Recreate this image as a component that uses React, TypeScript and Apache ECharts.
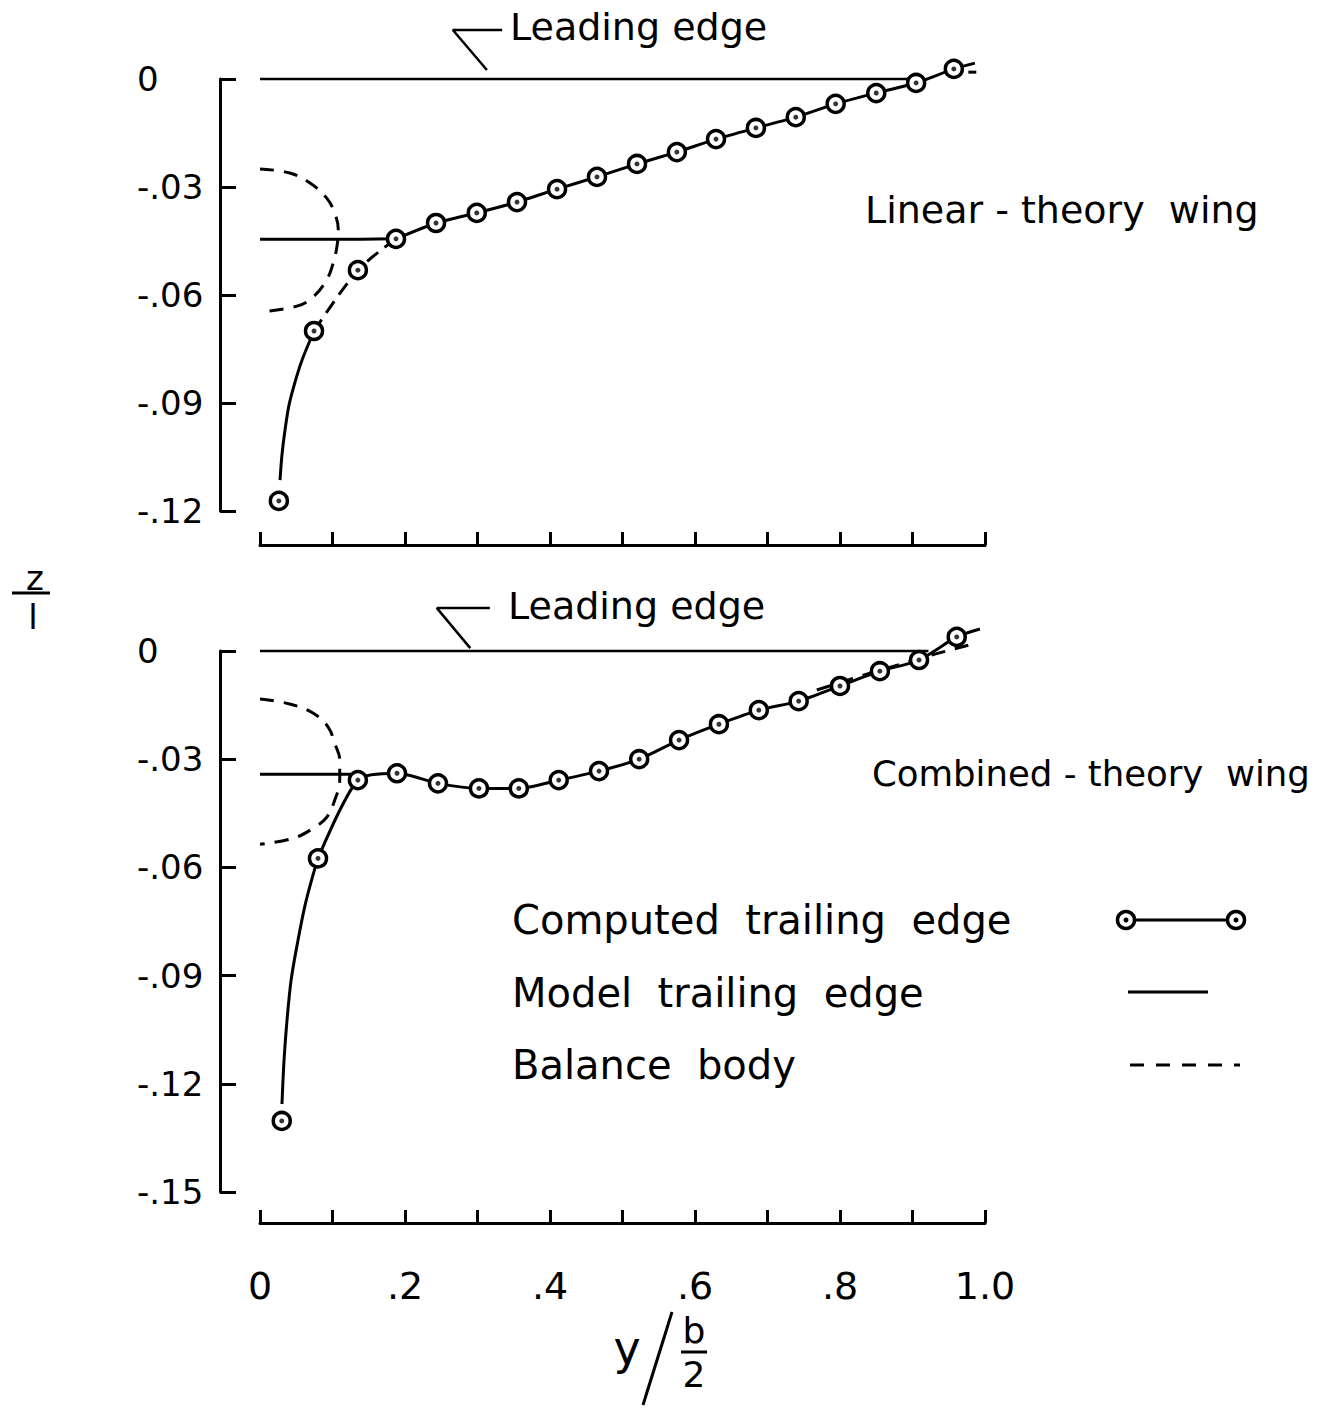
import React, { useEffect, useRef } from "react";
import * as echarts from "echarts";

// ---------- data ----------
const xTicks = [0, 0.1, 0.2, 0.3, 0.4, 0.5, 0.6, 0.7, 0.8, 0.9, 1.0];

// Upper panel: Linear-theory wing
const topSpan = [0.026, 0.0745, 0.135, 0.1876, 0.2428, 0.299, 0.3545, 0.4097, 0.4648, 0.52, 0.575, 0.629, 0.684, 0.739, 0.794, 0.85, 0.905, 0.957];
const topZ = [-0.1172, -0.07, -0.0531, -0.0444, -0.04, -0.0372, -0.0342, -0.0306, -0.0272, -0.0236, -0.0203, -0.0167, -0.0136, -0.0106, -0.0069, -0.0039, -0.0011, 0.0028];
const topCurveSpan = [0.0276, 0.0303, 0.0345, 0.04, 0.0483, 0.0579];
const topCurveZ = [-0.1114, -0.1044, -0.0975, -0.0906, -0.0842, -0.0781];
const topModelSpan = [0, 0.14, 0.188];
const topModelZ = [-0.0445, -0.0445, -0.0444];
const topBodySpan = [0, 0.041, 0.069, 0.092, 0.103, 0.108, 0.106, 0.101, 0.092, 0.073, 0.051, 0];
const topBodyZ = [-0.025, -0.0261, -0.0289, -0.0331, -0.0372, -0.0419, -0.0467, -0.0511, -0.0558, -0.0606, -0.0631, -0.0647];
const topTipSolid = [0.986, 0.0044];
const topTipDashSpan = [0.977, 0.988];
const topTipDashZ = [0.0019, 0.0019];
const topLeadingEnd = 0.895;
const topLeaderSpan = [0.313, 0.266, 0.334];
const topLeaderZ = [0.0025, 0.0136, 0.0136];

// Lower panel: Combined-theory wing
const botSpan = [0.03, 0.08, 0.135, 0.189, 0.2455, 0.302, 0.357, 0.412, 0.4676, 0.523, 0.578, 0.633, 0.688, 0.743, 0.8, 0.855, 0.909, 0.961];
const botZ = [-0.1303, -0.0575, -0.0358, -0.0339, -0.0367, -0.0381, -0.0381, -0.0358, -0.0333, -0.03, -0.0247, -0.0203, -0.0164, -0.0139, -0.0097, -0.0056, -0.0025, 0.0039];
const botCurveSpan = [0.0303, 0.0331, 0.0372, 0.0428, 0.051, 0.062, 0.0717];
const botCurveZ = [-0.1256, -0.1136, -0.1025, -0.0914, -0.0817, -0.0706, -0.0631];
const botModelSpan = [0, 0.134];
const botModelZ = [-0.0342, -0.0342];
const botBodySpan = [0, 0.041, 0.073, 0.094, 0.103, 0.11, 0.11, 0.103, 0.092, 0.073, 0.046, 0];
const botBodyZ = [-0.0133, -0.0147, -0.0172, -0.0211, -0.0256, -0.0303, -0.0358, -0.0414, -0.0461, -0.0492, -0.0519, -0.0536];
const botTipSolid = [0.993, 0.0061];
const botDashSpan = [0.768, 0.829, 0.879, 0.932, 0.988];
const botDashZ = [-0.0108, -0.0069, -0.0039, -0.0008, 0.0022];
const botLeadingEnd = 0.922;
const botLeaderSpan = [0.29, 0.244, 0.317];
const botLeaderZ = [0.0008, 0.0119, 0.0119];

const legendLabels = ["Computed  trailing  edge", "Model  trailing  edge", "Balance  body"];

// ---------- helpers ----------
const zip = (xs: number[], ys: number[]) => xs.map((x, i) => [x, ys[i]]);
const FONT = "DejaVu Sans";
const BLACK = "#000";

const lineSeries = (name: string, data: number[][], gi: number, opts: any = {}) => ({
  name,
  type: "line",
  xAxisIndex: gi,
  yAxisIndex: gi,
  data,
  showSymbol: false,
  symbol: "none",
  clip: false,
  silent: true,
  smooth: opts.smooth ?? false,
  lineStyle: { color: BLACK, width: opts.width ?? 3, type: opts.dash ?? "solid" },
  z: 2,
});

const markerSeries = (name: string, data: number[][], gi: number) => [
  {
    name,
    type: "scatter",
    xAxisIndex: gi,
    yAxisIndex: gi,
    data,
    clip: false,
    symbol: "circle",
    symbolSize: 17,
    itemStyle: { color: "#fff", borderColor: BLACK, borderWidth: 3.5, opacity: 1 },
    z: 5,
  },
  {
    name: name + " centre",
    type: "scatter",
    xAxisIndex: gi,
    yAxisIndex: gi,
    data,
    clip: false,
    symbol: "circle",
    symbolSize: 5,
    itemStyle: { color: BLACK },
    z: 6,
  },
];

const yFmt = (v: number) => (Math.abs(v) < 1e-9 ? "0" : "-" + Math.abs(v).toFixed(2).replace(/^0/, ""));
const xFmt = (v: number) => {
  const n = Math.round(v * 10);
  if (n % 2 !== 0) return "";
  if (n === 0) return "0";
  if (n === 10) return "1.0";
  return "." + n;
};

const makeYAxis = (gi: number, min: number) => ({
  gridIndex: gi,
  type: "value",
  min,
  max: 0,
  interval: 0.03,
  offset: 40,
  axisLine: { show: true, onZero: false, lineStyle: { color: BLACK, width: 3 } },
  axisTick: { show: true, inside: true, length: 16, lineStyle: { color: BLACK, width: 3 } },
  axisLabel: { show: true, formatter: yFmt, align: "left", margin: 83, color: BLACK, fontSize: 34, fontFamily: FONT },
  splitLine: { show: false },
});

const makeXAxis = (gi: number, offset: number, labels: boolean) => ({
  gridIndex: gi,
  type: "value",
  min: 0,
  max: 1,
  interval: xTicks[1] - xTicks[0],
  offset,
  axisLine: { show: true, onZero: false, lineStyle: { color: BLACK, width: 3 } },
  axisTick: { show: true, inside: true, length: 13, lineStyle: { color: BLACK, width: 3 } },
  axisLabel: { show: labels, formatter: xFmt, margin: 44, color: BLACK, fontSize: 38, fontFamily: FONT },
  splitLine: { show: false },
});

const txt = (text: string, x: number, y: number, size: number, align = "left") => ({
  type: "text",
  x,
  y,
  silent: true,
  style: {
    text,
    fill: BLACK,
    fontSize: size,
    fontFamily: FONT,
    textAlign: align,
    align,
    textVerticalAlign: "middle",
    verticalAlign: "middle",
  },
});

const seg = (x1: number, y1: number, x2: number, y2: number, w = 3, dash?: number[]) => ({
  type: "line",
  silent: true,
  shape: { x1, y1, x2, y2 },
  style: { stroke: BLACK, lineWidth: w, lineDash: dash },
});

export default function App() {
  const ref = useRef<HTMLDivElement>(null);

  useEffect(() => {
    document.body.style.margin = "0";
    if (!ref.current) return;
    const chart = echarts.init(ref.current, null, { renderer: "svg" });

    const topPts = zip(topSpan, topZ);
    const botPts = zip(botSpan, botZ);

    const series: any[] = [
      // ---- top panel ----
      lineSeries("Leading edge (linear)", [[0, 0], [topLeadingEnd, 0]], 0, { width: 2.5 }),
      lineSeries("Leader (linear)", zip(topLeaderSpan, topLeaderZ), 0, { width: 2.5 }),
      lineSeries("Model trailing edge (linear)", zip(topModelSpan, topModelZ), 0, { smooth: 0.3 }),
      lineSeries("Balance body (linear)", zip(topBodySpan, topBodyZ), 0, { smooth: 0.4, dash: [14, 10] }),
      lineSeries("Computed inner (linear)", [...zip(topCurveSpan, topCurveZ), topPts[1]], 0, { smooth: 0.3 }),
      lineSeries("Computed near body (linear)", topPts.slice(1, 4), 0, { smooth: 0.3, dash: [14, 8] }),
      lineSeries("Computed outer (linear)", [...topPts.slice(3), topTipSolid], 0, { smooth: 0.2 }),
      lineSeries("Tip dash (linear)", zip(topTipDashSpan, topTipDashZ), 0, {}),
      ...markerSeries("Computed trailing edge (linear)", topPts, 0),
      // ---- bottom panel ----
      lineSeries("Leading edge (combined)", [[0, 0], [botLeadingEnd, 0]], 1, { width: 2.5 }),
      lineSeries("Leader (combined)", zip(botLeaderSpan, botLeaderZ), 1, { width: 2.5 }),
      lineSeries("Model trailing edge (combined)", zip(botModelSpan, botModelZ), 1, {}),
      lineSeries("Balance body (combined)", zip(botBodySpan, botBodyZ), 1, { smooth: 0.4, dash: [14, 10] }),
      lineSeries("Computed inner (combined)", [...zip(botCurveSpan, botCurveZ), botPts[1]], 1, { smooth: 0.3 }),
      lineSeries("Computed outer (combined)", [...botPts.slice(1), botTipSolid], 1, { smooth: 0.25 }),
      lineSeries("Model tip dashed (combined)", zip(botDashSpan, botDashZ), 1, { dash: [14, 10] }),
      ...markerSeries("Computed trailing edge (combined)", botPts, 1),
    ];

    const graphic: any[] = [
      txt("Leading edge", 510, 27, 38),
      txt("Linear - theory  wing", 865, 210, 38),
      txt("Leading edge", 508, 606, 38),
      txt("Combined - theory  wing", 872, 773, 35.5),
      txt(legendLabels[0], 512, 920, 40),
      txt(legendLabels[1], 512, 993, 40),
      txt(legendLabels[2], 512, 1065, 40),
      // legend keys
      seg(1136, 920, 1226, 920, 3),
      { type: "circle", silent: true, shape: { cx: 1126, cy: 920, r: 8.5 }, style: { fill: "#fff", stroke: BLACK, lineWidth: 3.5 } },
      { type: "circle", silent: true, shape: { cx: 1126, cy: 920, r: 2.5 }, style: { fill: BLACK } },
      { type: "circle", silent: true, shape: { cx: 1236, cy: 920, r: 8.5 }, style: { fill: "#fff", stroke: BLACK, lineWidth: 3.5 } },
      { type: "circle", silent: true, shape: { cx: 1236, cy: 920, r: 2.5 }, style: { fill: BLACK } },
      seg(1128, 992, 1208, 992, 3),
      seg(1130, 1065, 1240, 1065, 3, [14, 12]),
      // y-axis title z / l
      txt("z", 35, 578, 34, "center"),
      seg(12, 593, 50, 593, 3),
      txt("l", 33, 617, 34, "center"),
      // x-axis title y / (b/2)
      txt("y", 627, 1348, 46, "center"),
      seg(643, 1405, 672, 1312, 3),
      txt("b", 694, 1330, 36, "center"),
      seg(681, 1352, 707, 1352, 3),
      txt("2", 694, 1374, 36, "center"),
    ];

    chart.setOption({
      animation: false,
      backgroundColor: "#fff",
      textStyle: { fontFamily: FONT },
      grid: [
        { left: 260, width: 725, top: 79, height: 432, containLabel: false },
        { left: 260, width: 725, top: 651, height: 541, containLabel: false },
      ],
      xAxis: [makeXAxis(0, 34, false), makeXAxis(1, 31, true)],
      yAxis: [makeYAxis(0, -0.12), makeYAxis(1, -0.15)],
      series,
      graphic,
    });

    return () => chart.dispose();
  }, []);

  return <div ref={ref} style={{ width: 1325, height: 1409 }} />;
}
